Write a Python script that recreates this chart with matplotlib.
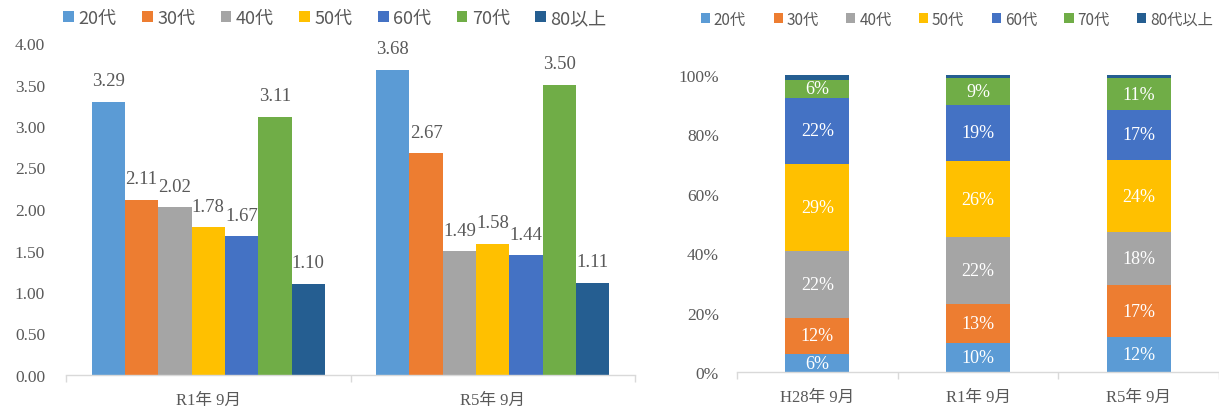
import matplotlib
matplotlib.use("Agg")
import matplotlib.pyplot as plt
import numpy as np
from matplotlib.patches import Patch

plt.rcParams['font.family'] = ['Liberation Serif', 'Noto Sans CJK JP', 'DejaVu Sans']

# ---------------- data ----------------
left_groups = ["R1年 9月", "R5年 9月"]
left_series = ["20代", "30代", "40代", "50代", "60代", "70代", "80以上"]
left_r1 = [3.29, 2.11, 2.02, 1.78, 1.67, 3.11, 1.10]
left_r5 = [3.68, 2.67, 1.49, 1.58, 1.44, 3.50, 1.11]
left_yticks = [0.0, 0.5, 1.0, 1.5, 2.0, 2.5, 3.0, 3.5, 4.0]

right_groups = ["H28年 9月", "R1年 9月", "R5年 9月"]
right_series = ["20代", "30代", "40代", "50代", "60代", "70代", "80代以上"]
share_20 = [6.0, 9.9, 11.8]
share_30 = [12.3, 13.0, 17.4]
share_40 = [22.3, 22.4, 17.8]
share_50 = [29.4, 25.8, 24.3]
share_60 = [22.4, 18.9, 17.0]
share_70 = [6.0, 8.9, 10.6]
share_80 = [1.6, 1.1, 1.1]
right_yticks = [0, 20, 40, 60, 80, 100]

colors = ["#5B9BD5", "#ED7D31", "#A5A5A5", "#FFC000", "#4472C4", "#70AD47", "#255E91"]
text_gray = "#595959"
axis_gray = "#D9D9D9"

fig = plt.figure(figsize=(12.19, 4.10), dpi=100)

# ---------------- left chart ----------------
axL = fig.add_axes([66/1219, 34/410, (635-66)/1219, (376-44)/410])
group_w = 0.82
n = len(left_series)
bw = group_w / n
vals = np.array([left_r1, left_r5])
x = np.arange(len(left_groups))
for i in range(n):
    xs = x - group_w/2 + bw*(i+0.5)
    bars = axL.bar(xs, vals[:, i], width=bw, color=colors[i], edgecolor='none', zorder=2)
    axL.bar_label(bars, labels=[f"{v:.2f}" for v in vals[:, i]], padding=9,
                  fontsize=13.5, color=text_gray)
axL.set_xlim(-0.5, 1.5)
axL.set_ylim(0, 4.0)
axL.set_yticks(left_yticks)
axL.set_yticklabels([f"{v:.2f}" for v in left_yticks], fontsize=12.5, color=text_gray)
axL.tick_params(axis='y', length=0, pad=15)
axL.set_xticks(x)
axL.set_xticklabels(left_groups, fontsize=12, color=text_gray)
axL.set_xticks([-0.5, 0.5, 1.5], minor=True)
axL.tick_params(axis='x', which='major', length=0, pad=12)
axL.tick_params(axis='x', which='minor', length=5, color=axis_gray, width=1)
for s in ['top', 'right', 'left']:
    axL.spines[s].set_visible(False)
axL.spines['bottom'].set_color(axis_gray)
axL.spines['bottom'].set_linewidth(1)

handlesL = [Patch(facecolor=c, edgecolor='none') for c in colors]
fig.legend(handlesL, left_series, loc='center', bbox_to_anchor=(335/1219, 1 - 19/410),
           ncol=7, frameon=False, handlelength=0.6, handleheight=0.6,
           handletextpad=0.25, columnspacing=1.4,
           prop={'family': ['Noto Sans CJK JP'], 'size': 13}, labelcolor=text_gray)

# ---------------- right chart ----------------
axR = fig.add_axes([737/1219, 37/410, (1219-737)/1219, (373-76)/410])
shares = np.array([share_20, share_30, share_40, share_50, share_60, share_70, share_80])
xr = np.arange(len(right_groups))
bottom = np.zeros(len(right_groups))
for i in range(len(right_series)):
    bars = axR.bar(xr, shares[i], width=0.40, bottom=bottom, color=colors[i],
                   edgecolor='none', zorder=2)
    if i < len(right_series) - 1:
        axR.bar_label(bars, labels=[f"{v:.0f}%" for v in shares[i]], label_type='center',
                      fontsize=13, color='white')
    bottom += shares[i]
axR.set_xlim(-0.5, 2.5)
axR.set_ylim(0, 100)
axR.set_yticks(right_yticks)
axR.set_yticklabels([f"{v}%" for v in right_yticks], fontsize=12.5, color=text_gray)
axR.tick_params(axis='y', length=0, pad=13)
axR.set_xticks(xr)
axR.set_xticklabels(right_groups, fontsize=12, color=text_gray)
axR.set_xticks([-0.5, 0.5, 1.5, 2.5], minor=True)
axR.tick_params(axis='x', which='major', length=0, pad=12)
axR.tick_params(axis='x', which='minor', length=5, color=axis_gray, width=1)
for s in ['top', 'right', 'left']:
    axR.spines[s].set_visible(False)
axR.spines['bottom'].set_color(axis_gray)
axR.spines['bottom'].set_linewidth(1)

handlesR = [Patch(facecolor=c, edgecolor='none') for c in colors]
fig.legend(handlesR, right_series, loc='center', bbox_to_anchor=(957/1219, 1 - 20/410),
           ncol=7, frameon=False, handlelength=0.6, handleheight=0.6,
           handletextpad=0.25, columnspacing=1.8,
           prop={'family': ['Noto Sans CJK JP'], 'size': 11}, labelcolor=text_gray)

fig.savefig("out.png", dpi=100)
